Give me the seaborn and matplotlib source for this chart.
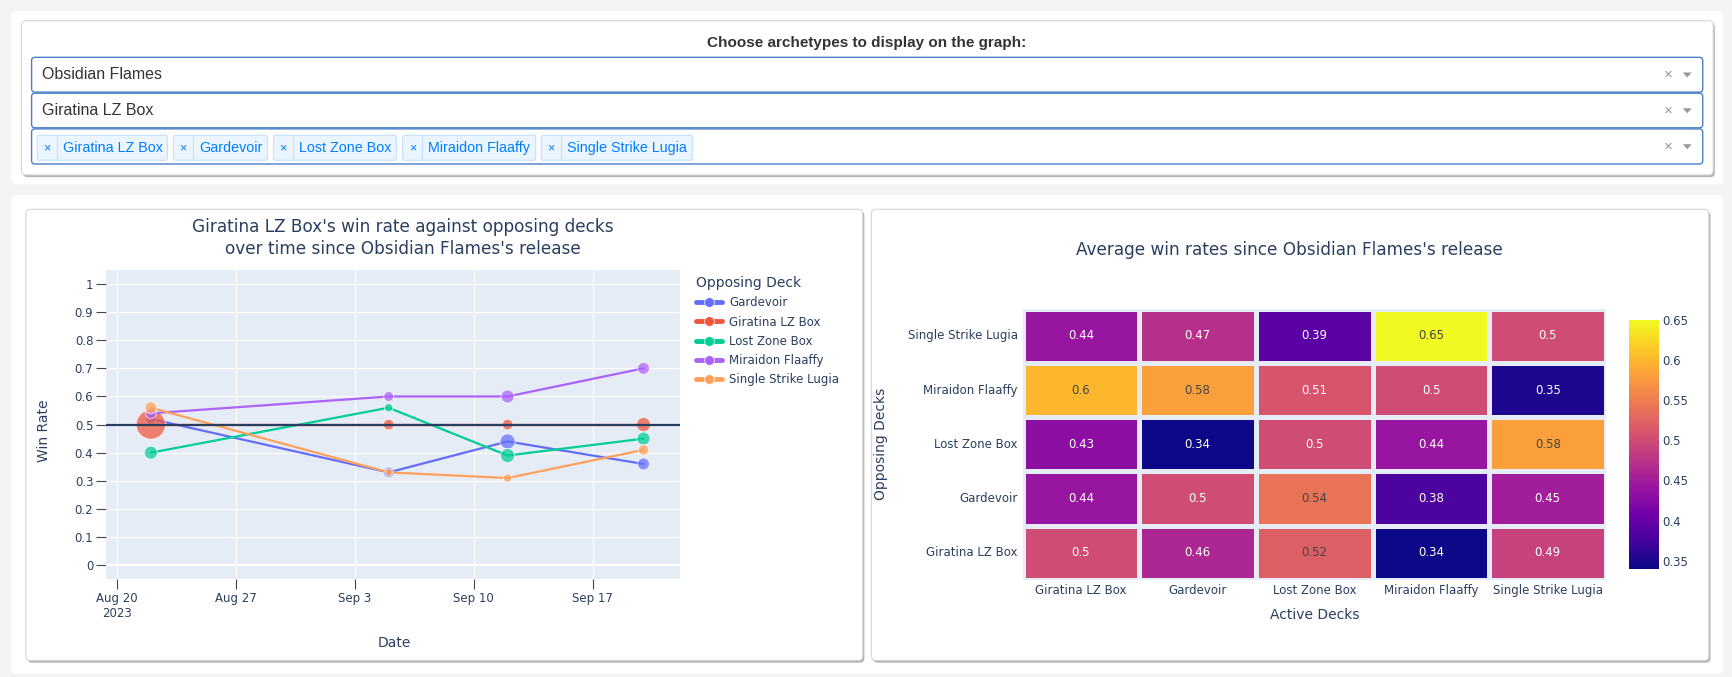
import matplotlib
matplotlib.use('Agg')
import matplotlib.pyplot as plt
import matplotlib.dates as mdates
from matplotlib.colors import LinearSegmentedColormap, to_rgb
from matplotlib.lines import Line2D
from matplotlib.patches import FancyBboxPatch, Polygon
from matplotlib.transforms import Affine2D
import numpy as np
import pandas as pd
import seaborn as sns

sns.set_style('white')
plt.rcParams['font.family'] = ['DejaVu Sans']

# ---- data ----
release = 'Obsidian Flames'
active_deck = 'Giratina LZ Box'
selected_decks = ['Giratina LZ Box', 'Gardevoir', 'Lost Zone Box', 'Miraidon Flaaffy', 'Single Strike Lugia']
legend_order = ['Gardevoir', 'Giratina LZ Box', 'Lost Zone Box', 'Miraidon Flaaffy', 'Single Strike Lugia']

match_dates = ['2023-08-22', '2023-09-05', '2023-09-12', '2023-09-20']
win_gardevoir = [0.52, 0.33, 0.44, 0.36]
win_giratina = [0.50, 0.50, 0.50, 0.50]
win_lost_zone = [0.40, 0.56, 0.39, 0.45]
win_miraidon = [0.54, 0.60, 0.60, 0.70]
win_lugia = [0.56, 0.33, 0.31, 0.41]
games_gardevoir = [8, 8, 16, 10]
games_giratina = [60, 8, 8, 14]
games_lost_zone = [12, 5, 14, 12]
games_miraidon = [8, 7, 12, 10]
games_lugia = [10, 4, 5, 8]

active_decks = ['Giratina LZ Box', 'Gardevoir', 'Lost Zone Box', 'Miraidon Flaaffy', 'Single Strike Lugia']
opposing_decks = ['Single Strike Lugia', 'Miraidon Flaaffy', 'Lost Zone Box', 'Gardevoir', 'Giratina LZ Box']
avg_vs_lugia = [0.44, 0.47, 0.39, 0.65, 0.5]
avg_vs_miraidon = [0.6, 0.58, 0.51, 0.5, 0.35]
avg_vs_lost_zone = [0.43, 0.34, 0.5, 0.44, 0.58]
avg_vs_gardevoir = [0.44, 0.5, 0.54, 0.38, 0.45]
avg_vs_giratina = [0.5, 0.46, 0.52, 0.34, 0.49]

palette = {'Gardevoir': '#636EFA', 'Giratina LZ Box': '#EF553B', 'Lost Zone Box': '#00CC96',
           'Miraidon Flaaffy': '#AB63FA', 'Single Strike Lugia': '#FFA15A'}
plasma_stops = ['#0d0887', '#46039f', '#7201a8', '#9c179e', '#bd3786',
                '#d8576b', '#ed7953', '#fb9f3a', '#fdca26', '#f0f921']
TXT = '#2a3f5f'
PLOT_BG = '#E5ECF6'

# ---- layout grid (screen units, y down) ----
W, H = 1568.0, 613.0

fig = plt.figure(figsize=(17.32, 6.77), dpi=100)
fig.patch.set_facecolor('#f4f4f4')
ui = Affine2D().scale(1.0 / W, -1.0 / H).translate(0, 1) + fig.transFigure


def box(x0, y0, x1, y1):
    return [x0 / W, 1 - y1 / H, (x1 - x0) / W, (y1 - y0) / H]


def rbox(x0, y0, x1, y1, fc, ec='none', lw=0.0, r=4, z=-5, alpha=1.0):
    p = FancyBboxPatch((x0, y0), x1 - x0, y1 - y0, boxstyle='round,pad=0,rounding_size=%s' % r,
                       transform=ui, facecolor=fc, edgecolor=ec, lw=lw, zorder=z, alpha=alpha)
    fig.add_artist(p)


def panel(x0, y0, x1, y1):
    rbox(x0 + 1.5, y0 + 2.0, x1 + 1.5, y1 + 2.0, '#8a8a8a', r=4, z=-4, alpha=0.65)
    rbox(x0, y0, x1, y1, 'white', ec='#d6d6d6', lw=0.8, r=4, z=-3)


def clear_and_arrow(yc):
    fig.text(1510.5, yc, '\u00d7', transform=ui, ha='center', va='center', color='#999999',
             fontsize=11, family='Liberation Sans')
    tri = Polygon([(1523.5, yc - 2.0), (1531.5, yc - 2.0), (1527.5, yc + 2.5)], closed=True,
                  transform=ui, facecolor='#999999', edgecolor='none', zorder=5)
    fig.add_artist(tri)


# cards
rbox(10, 10, 1560, 167, 'white', r=5, z=-6)
rbox(10, 176.5, 1560, 610, 'white', r=5, z=-6)
panel(19.4, 18.7, 1551, 158.4)
panel(23.4, 189.5, 781, 598)
panel(788.9, 189.5, 1547, 598)

# selector block
fig.text(785, 39.2, 'Choose archetypes to display on the graph:', transform=ui, ha='center', va='center',
         fontsize=11, fontweight='bold', color='#333333', family='Liberation Sans')
dd_rows = [(51.9, 83.4), (84.4, 115.7), (116.7, 148.5)]
for y0, y1 in dd_rows:
    rbox(28.6, y0, 1541.5, y1, 'white', ec='#4a80c8', lw=1.0, r=3, z=-2)
    clear_and_arrow((y0 + y1) / 2)
fig.text(37.9, 67.6, release, transform=ui, ha='left', va='center', fontsize=11.5,
         color='#333333', family='Liberation Sans')
fig.text(37.9, 100.0, active_deck, transform=ui, ha='left', va='center', fontsize=11.5,
         color='#333333', family='Liberation Sans')

tag_x = [33.7, 157.0, 247.6, 364.5, 490.0]
tag_right = [151.5, 242.0, 358.9, 485.0, 626.8]
for deck, x0, x1 in zip(selected_decks, tag_x, tag_right):
    rbox(x0, 122.5, x1, 145.1, '#ebf5ff', ec='#c2e0ff', lw=0.8, r=2, z=-1)
    fig.add_artist(Line2D([x0 + 17.6, x0 + 17.6], [122.5, 145.1], transform=ui, color='#c2e0ff', lw=0.8))
    fig.text(x0 + 8.8, 134.3, '\u00d7', transform=ui, ha='center', va='center', fontsize=9,
             color='#007eff', family='Liberation Sans')
    fig.text(x0 + 23.0, 134.3, deck, transform=ui, ha='left', va='center', fontsize=10.3,
             color='#007eff', family='Liberation Sans')

# ---- line chart ----
series = {
    'Gardevoir': (win_gardevoir, games_gardevoir),
    'Giratina LZ Box': (win_giratina, games_giratina),
    'Lost Zone Box': (win_lost_zone, games_lost_zone),
    'Miraidon Flaaffy': (win_miraidon, games_miraidon),
    'Single Strike Lugia': (win_lugia, games_lugia),
}
rows = []
for deck in legend_order:
    wins, games = series[deck]
    for d, w, g in zip(match_dates, wins, games):
        rows.append({'date': pd.Timestamp(d), 'deck': deck, 'win_rate': w, 'games': g})
df = pd.DataFrame(rows)

gmin, gmax = df.games.min(), df.games.max()
k = 7.4  # marker area per game, pt^2

ax = fig.add_axes(box(95.8, 244.4, 615.8, 524.5))
ax.set_facecolor(PLOT_BG)
for i, deck in enumerate(legend_order):
    sub = df[df.deck == deck]
    sns.lineplot(data=sub, x='date', y='win_rate', color=palette[deck], lw=1.6,
                 ax=ax, zorder=3 + 2 * i, legend=False)
    sns.scatterplot(data=sub, x='date', y='win_rate', size='games', sizes=(k * gmin, k * gmax),
                    size_norm=(gmin, gmax), color=palette[deck], alpha=0.72, edgecolor='white',
                    linewidth=0.7, ax=ax, zorder=4 + 2 * i, legend=False)
ax.axhline(0.5, color=TXT, lw=1.6, zorder=30)

start = mdates.date2num(pd.Timestamp('2023-08-20'))
ax.set_xlim(start - 0.65, start + 33.16)
ax.set_ylim(-0.05, 1.05)
tick_days = pd.date_range('2023-08-20', '2023-09-17', freq='7D')
ax.set_xticks(tick_days)
ax.set_xticklabels([d.strftime('%b ') + str(d.day) + ('\n2023' if j == 0 else '')
                    for j, d in enumerate(tick_days)])
yt = np.round(np.arange(0, 1.01, 0.1), 1)
ax.set_yticks(yt)
ax.set_yticklabels(['%g' % v for v in yt])
ax.grid(True, color='white', lw=0.8)
ax.axhline(0, color='white', lw=1.6, zorder=1)
ax.set_axisbelow(True)
for s in ax.spines.values():
    s.set_visible(False)
ax.tick_params(axis='both', direction='out', length=7, width=0.8, color='#444444',
               labelcolor=TXT, labelsize=8.5, bottom=True, left=True)
ax.tick_params(axis='y', pad=2)
ax.tick_params(axis='x', pad=2)
ax.set_xlabel('')
ax.set_ylabel('')

handles = [Line2D([0], [0], color=palette[d], lw=3.5, marker='o', ms=7, mec='white', mew=0.5)
           for d in legend_order]
leg = ax.legend(handles, legend_order, title='Opposing Deck', loc='upper left',
                bbox_to_anchor=(630 / W, 1 - 250 / H), bbox_transform=fig.transFigure,
                frameon=False, fontsize=8.5, title_fontsize=10, handlelength=2.2,
                handletextpad=0.6, labelspacing=0.53, borderaxespad=0, borderpad=0,
                alignment='left', labelcolor=TXT)
leg.get_title().set_color(TXT)

fig.text(364.8, 205.6, "%s's win rate against opposing decks" % active_deck, transform=ui,
         ha='center', va='center', fontsize=12.2, color=TXT)
fig.text(364.8, 225.7, "over time since %s's release" % release, transform=ui,
         ha='center', va='center', fontsize=12.2, color=TXT)
fig.text(40, 390, 'Win Rate', transform=ui, rotation=90, ha='center', va='center',
         fontsize=10, color=TXT)
fig.text(357, 582, 'Date', transform=ui, ha='center', va='center', fontsize=10, color=TXT)

# ---- heatmap ----
hm = pd.DataFrame([avg_vs_lugia, avg_vs_miraidon, avg_vs_lost_zone, avg_vs_gardevoir, avg_vs_giratina],
                  index=opposing_decks, columns=active_decks)
cmap = LinearSegmentedColormap.from_list('plotly_plasma', plasma_stops)
vmin, vmax = hm.values.min(), hm.values.max()

hax = fig.add_axes(box(925.7, 279.7, 1454, 525))
cax = fig.add_axes(box(1474.7, 289.7, 1501.9, 515))
hax.set_facecolor(PLOT_BG)
sns.heatmap(hm, ax=hax, cbar_ax=cax, cmap=cmap, vmin=vmin, vmax=vmax, annot=True, fmt='g',
            annot_kws={'fontsize': 8.5}, linewidths=2.2, linecolor=PLOT_BG)


def text_color(v):
    r, g, b = to_rgb(cmap((v - vmin) / (vmax - vmin)))
    bright = (r * 299 + g * 587 + b * 114) / 1000 * 255
    return '#444444' if bright >= 128 else 'white'


for t in hax.texts:
    t.set_color(text_color(float(t.get_text())))

hax.set_xticklabels(active_decks, rotation=0)
hax.set_yticklabels(opposing_decks, rotation=0)
hax.tick_params(axis='both', length=0, labelsize=8.5, labelcolor=TXT)
hax.tick_params(axis='x', pad=3)
hax.tick_params(axis='y', pad=3.5)
hax.set_xlabel('')
hax.set_ylabel('')

cbar = hax.collections[0].colorbar
cbar.outline.set_visible(False)
cticks = np.round(np.arange(0.35, 0.651, 0.05), 2)
cbar.set_ticks(cticks)
cbar.set_ticklabels(['%g' % v for v in cticks])
cax.tick_params(length=0, labelsize=8.5, labelcolor=TXT, pad=2.5)

fig.text(1167, 226, "Average win rates since %s's release" % release, transform=ui,
         ha='center', va='center', fontsize=12.2, color=TXT)
fig.text(798, 402, 'Opposing Decks', transform=ui, rotation=90, ha='center', va='center',
         fontsize=10, color=TXT)
fig.text(1190, 557, 'Active Decks', transform=ui, ha='center', va='center', fontsize=10, color=TXT)

fig.savefig('out.png', dpi=100, facecolor=fig.get_facecolor())
